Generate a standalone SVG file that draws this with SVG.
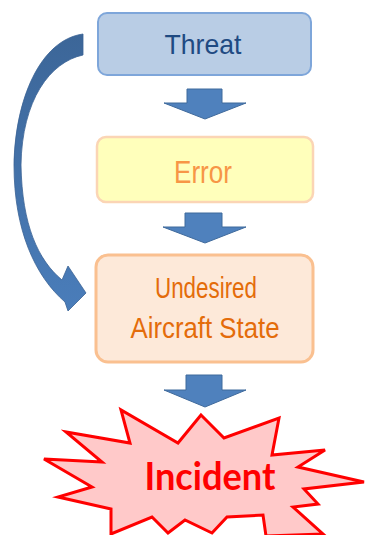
<svg xmlns="http://www.w3.org/2000/svg" width="366" height="535" viewBox="0 0 366 535">
  <style>
    .label { font-family: "Liberation Sans", Arial, sans-serif; text-anchor: middle; }
    .down { fill: #4F81BD; stroke: #3F6A9C; stroke-width: 1; }
  </style>
  <defs>
    <linearGradient id="curveFill" x1="0" y1="0" x2="0" y2="1">
      <stop offset="0" stop-color="#3C6698"/>
      <stop offset="1" stop-color="#4A7DBA"/>
    </linearGradient>
  </defs>

  <rect width="366" height="535" fill="#FFFFFF"/>

  <!-- connectors -->
  <g id="connectors">
    <!-- bypass arrow from Threat straight to Undesired Aircraft State -->
    <path fill="url(#curveFill)" stroke="#3A6294" stroke-width="0.8"
          d="M83,34 L83,55 C50,62 22,100 21,165 C22,225 38,260 62,280 L68,266 L86,293 L68,311 L65,302 C35,276 14,230 14,165 C15,100 40,40 83,34 Z"/>
    <polygon class="down" points="187,89 222,89 222,103 246,103 205,119 164,103 187,103"/>
    <polygon class="down" points="185,213 222,213 222,227 246,227 205,243 163,227 185,227"/>
    <polygon class="down" points="186,375 222,375 222,390 246,390 205,407 164,390 186,390"/>
  </g>

  <g id="threat">
    <rect x="98" y="13" width="213" height="62" rx="9" fill="#B9CDE5" stroke="#7EA6DA" stroke-width="2"/>
    <text class="label" x="203" y="54" font-size="28" fill="#1F4A82" textLength="77" lengthAdjust="spacingAndGlyphs">Threat</text>
  </g>

  <g id="error">
    <rect x="97" y="137" width="216" height="65" rx="9" fill="#FFFFBB" stroke="#FBD5B5" stroke-width="2.5"/>
    <text class="label" x="203" y="183" font-size="31" fill="#F79646" textLength="58" lengthAdjust="spacingAndGlyphs">Error</text>
  </g>

  <g id="undesired-state">
    <rect x="96" y="255" width="217" height="107" rx="12" fill="#FDE9D9" stroke="#FAC090" stroke-width="3"/>
    <text class="label" x="206" y="298" font-size="29" fill="#E46C0A" textLength="102" lengthAdjust="spacingAndGlyphs">Undesired</text>
    <text class="label" x="205" y="338" font-size="29" fill="#E46C0A" textLength="149" lengthAdjust="spacingAndGlyphs">Aircraft State</text>
  </g>

  <g id="incident">
    <polygon fill="#FFC9C9" stroke="#FF0000" stroke-width="3" stroke-linejoin="miter"
             points="201,415 224,438 279,418 272,455 325,450 298,467 364,482 304,489 318,504 293,507 323,534 266,536 263,515 227,517 212,533 185,520 168,533 152,517 111,534 111,509 58,497 92,487 44,459 102,462 66,432 130,443 121,410 178,443"/>
    <text x="210" y="490" font-family="Lato, 'Open Sans', sans-serif" font-weight="bold" font-size="39" fill="#FF0000" text-anchor="middle" textLength="131" lengthAdjust="spacingAndGlyphs">Incident</text>
  </g>
</svg>
